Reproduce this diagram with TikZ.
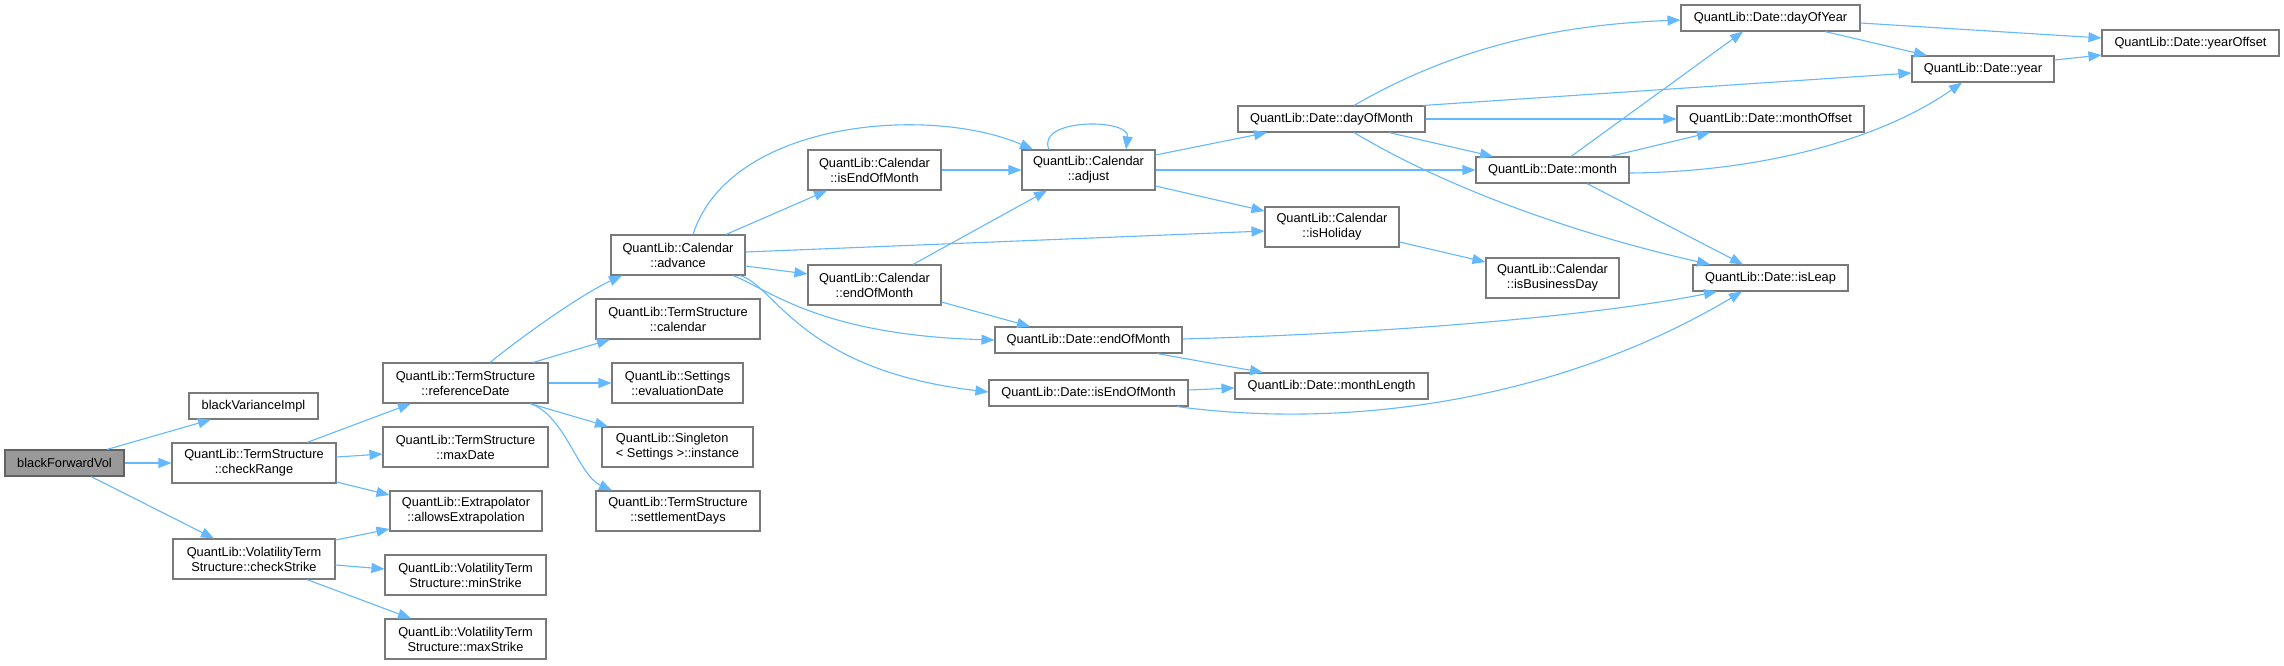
\documentclass[tikz,border=0pt]{standalone}
\usepackage{fontspec}
\setmainfont{Liberation Sans}
\usetikzlibrary{arrows.meta}
\definecolor{edgecol}{HTML}{63B8FF}
\definecolor{nodeborder}{HTML}{7A7A7A}
\definecolor{rootfill}{HTML}{999999}
\newcommand{\qbox}[7][]{\node[box,#1,minimum width={(#4-#3)*1pt},minimum height={(#6-#5)*1pt}] (#2) at ({(#3+#4)/2},{(#5+#6)/2}) {#7};}
\begin{document}
\begin{tikzpicture}[x=1pt,y=-1pt,
  box/.style={draw=nodeborder, fill=white, line width=1.1pt, inner sep=0pt, align=center, font=\fontsize{12.8}{15}\selectfont},
  rootbox/.style={fill=rootfill, draw=nodeborder!80!black},
  e/.style={draw=edgecol, line width=1.1pt, -{Triangle[length=13pt,width=10pt]}}]
\fill[white] (0,0) rectangle (2284,665);
\useasboundingbox (0,0) rectangle (2284,665);

\qbox[rootbox]{bfv}{5}{124}{450}{476}{blackForwardVol}
\qbox{bvi}{189}{318}{393}{419}{blackVarianceImpl}
\qbox{cr}{172}{336}{443}{483}{QuantLib::TermStructure\\::checkRange}
\qbox{cs}{173}{335}{539}{579}{QuantLib::VolatilityTerm\\Structure::checkStrike}
\qbox{rd}{383}{548}{363}{403}{QuantLib::TermStructure\\::referenceDate}
\qbox{md}{383}{548}{427}{467}{QuantLib::TermStructure\\::maxDate}
\qbox{ae}{390}{542}{491}{531}{QuantLib::Extrapolator\\::allowsExtrapolation}
\qbox{mins}{385}{546}{555}{595}{QuantLib::VolatilityTerm\\Structure::minStrike}
\qbox{maxs}{385}{546}{619}{659}{QuantLib::VolatilityTerm\\Structure::maxStrike}
\qbox{adv}{611}{745}{235}{275}{QuantLib::Calendar\\::advance}
\qbox{cal}{596}{760}{299}{339}{QuantLib::TermStructure\\::calendar}
\qbox{ed}{612}{743}{363}{403}{QuantLib::Settings\\::evaluationDate}
\qbox[align=left]{inst}{602}{753}{427}{467}{QuantLib::Singleton\\< Settings >::instance}
\qbox{sd}{596}{760}{491}{531}{QuantLib::TermStructure\\::settlementDays}
\qbox{ieom}{808}{941}{150}{190}{QuantLib::Calendar\\::isEndOfMonth}
\qbox{ceom}{808}{941}{265}{305}{QuantLib::Calendar\\::endOfMonth}
\qbox{adj}{1022}{1155}{150}{190}{QuantLib::Calendar\\::adjust}
\qbox{deom}{995}{1182}{327}{353}{QuantLib::Date::endOfMonth}
\qbox{dieom}{989}{1188}{380}{406}{QuantLib::Date::isEndOfMonth}
\qbox{dom}{1238}{1425}{106}{132}{QuantLib::Date::dayOfMonth}
\qbox{hol}{1265}{1399}{207}{247}{QuantLib::Calendar\\::isHoliday}
\qbox{ml}{1235}{1428}{373}{399}{QuantLib::Date::monthLength}
\qbox{mon}{1476}{1629}{157}{183}{QuantLib::Date::month}
\qbox{ibd}{1486}{1619}{258}{298}{QuantLib::Calendar\\::isBusinessDay}
\qbox{doy}{1681}{1860}{5}{31}{QuantLib::Date::dayOfYear}
\qbox{mo}{1677}{1864}{106}{132}{QuantLib::Date::monthOffset}
\qbox{leap}{1693}{1848}{265}{291}{QuantLib::Date::isLeap}
\qbox{yr}{1912}{2054}{56}{82}{QuantLib::Date::year}
\qbox{yo}{2102}{2279}{30}{56}{QuantLib::Date::yearOffset}

% level 1
\draw[e] (bfv.north -| 107,0) -- (bvi.south -| 211,0);
\draw[e] (bfv) -- (cr);
\draw[e] (bfv.south -| 91,0) -- (cs.north -| 214,0);
% level 2
\draw[e] (cr.north -| 307,0) -- (rd.south -| 411,0);
\draw[e] (cr.east |- 0,457) -- (md.west |- 0,454);
\draw[e] (cr.east |- 0,482) -- (ae.west |- 0,495);
\draw[e] (cs.east |- 0,540) -- (ae.west |- 0,529);
\draw[e] (cs.east |- 0,565) -- (mins.west |- 0,569);
\draw[e] (cs.south -| 307,0) -- (maxs.north -| 411,0);
% level 3
\draw[e] (rd.north -| 490,0) .. controls (520,338) and (580,295) .. (adv.south -| 622,0);
\draw[e] (rd.north -| 533,0) -- (cal.south -| 610,0);
\draw[e] (rd) -- (ed);
\draw[e] (rd.south -| 530,0) -- (inst.north -| 608,0);
\draw[e] (rd.south -| 530,0) .. controls (565,415) and (578,475) .. (sd.north -| 612,0);
% level 4
\draw[e] (adv.north -| 693,0) .. controls (730,120) and (930,105) .. (adj.north -| 1033,0);
\draw[e] (adv.north -| 726,0) -- (ieom.south -| 827,0);
\draw[e] (adv.east |- 0,252) -- (hol.west |- 0,231);
\draw[e] (adv.east |- 0,266) -- (ceom.west |- 0,274);
\draw[e] (adv.south -| 733,0) .. controls (770,290) and (820,335) .. (deom.west |- 0,340);
\draw[e] (adv.south -| 740,0) .. controls (775,285) and (800,370) .. (dieom.west |- 0,392);
% level 5
\draw[e] (ieom) -- (adj);
\draw[e] (ceom.north -| 913,0) -- (adj.south -| 1047,0);
\draw[e] (ceom.east |- 0,302) -- (deom.north -| 1030,0);
% level 6
\draw[e] (adj.north -| 1049,0) .. controls (1035,118) and (1130,118) .. (adj.north -| 1126,0);
\draw[e] (adj.east |- 0,155) -- (dom.south -| 1267,0);
\draw[e] (adj.east |- 0,170) -- (mon.west |- 0,170);
\draw[e] (adj.east |- 0,186) -- (hol.west |- 0,211);
\draw[e] (deom.south -| 1157,0) -- (ml.north -| 1263,0);
\draw[e] (dieom.east |- 0,390) -- (ml.west |- 0,388);
\draw[e] (deom.east |- 0,339) .. controls (1400,333) and (1600,315) .. (leap.south -| 1717,0);
\draw[e] (dieom.south -| 1177,0) .. controls (1350,430) and (1560,400) .. (leap.south -| 1742,0);
% level 7
\draw[e] (dom.north -| 1354,0) .. controls (1450,50) and (1550,25) .. (doy.west |- 0,20);
\draw[e] (dom.north -| 1423,0) -- (yr.west |- 0,73);
\draw[e] (dom.east |- 0,119) -- (mo.west |- 0,119);
\draw[e] (dom.south -| 1389,0) -- (mon.north -| 1493,0);
\draw[e] (dom.south -| 1354,0) .. controls (1450,190) and (1580,235) .. (leap.north -| 1710,0);
\draw[e] (hol.east |- 0,242) -- (ibd.west |- 0,262);
% level 8
\draw[e] (mon.north -| 1571,0) -- (doy.south -| 1743,0);
\draw[e] (mon.north -| 1610,0) -- (mo.south -| 1710,0);
\draw[e] (mon.east |- 0,173) .. controls (1760,172) and (1880,140) .. (yr.south -| 1962,0);
\draw[e] (mon.south -| 1587,0) -- (leap.north -| 1743,0);
% level 9
\draw[e] (doy.east |- 0,23) -- (yo.west |- 0,38);
\draw[e] (doy.south -| 1825,0) -- (yr.north -| 1927,0);
\draw[e] (yr.east |- 0,60) -- (yo.west |- 0,55);
\end{tikzpicture}
\end{document}
